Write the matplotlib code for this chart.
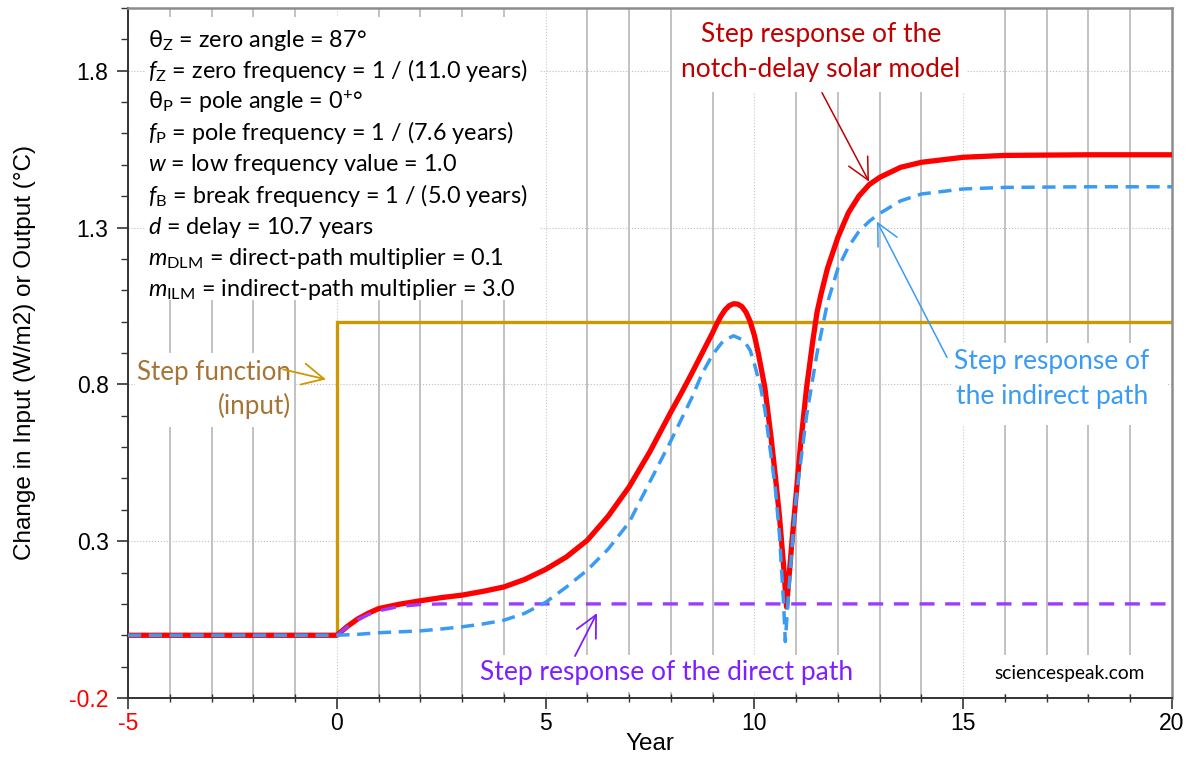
import matplotlib
matplotlib.use('Agg')
import matplotlib.pyplot as plt
from matplotlib.ticker import MultipleLocator, FixedLocator
from matplotlib.patches import Rectangle

# ---------------- data ----------------
years_step = [-5, 0, 0, 20]
step_input = [0.0, 0.0, 1.0, 1.0]

years_total = [-5, 0, 0.25, 0.5, 0.75, 1, 1.5, 2, 2.5, 3, 3.5, 4, 4.5, 5, 5.5, 6, 6.5, 7,
               7.5, 8, 8.25, 8.5, 8.75, 9, 9.1, 9.2, 9.3, 9.4, 9.5, 9.6, 9.7, 9.8, 9.9, 10,
               10.1, 10.25, 10.4, 10.5, 10.6, 10.7, 10.77, 10.85, 10.9, 11, 11.1, 11.25,
               11.4, 11.5, 11.6, 11.75, 12, 12.25, 12.5, 12.75, 13, 13.5, 14, 15, 16, 18, 20]
total_resp = [0, 0, 0.028, 0.052, 0.07, 0.085, 0.099, 0.11, 0.12, 0.128, 0.14, 0.154, 0.178,
              0.21, 0.25, 0.303, 0.38, 0.473, 0.586, 0.712, 0.772, 0.835, 0.90, 0.965,
              0.993, 1.018, 1.038, 1.051, 1.057, 1.056, 1.048, 1.03, 1.0, 0.956, 0.895,
              0.79, 0.63, 0.51, 0.38, 0.22, 0.09, 0.22, 0.30, 0.45, 0.60, 0.79, 0.94, 1.03,
              1.09, 1.17, 1.269, 1.347, 1.40, 1.437, 1.46, 1.492, 1.508, 1.524, 1.53,
              1.532, 1.532]

years_indirect = [-5, 0, 0.5, 1, 1.5, 2, 2.5, 3, 3.5, 4, 4.5, 5, 5.5, 6, 6.5, 7, 7.5, 8,
                  8.5, 8.75, 9, 9.25, 9.5, 9.75, 9.9, 10, 10.15, 10.25, 10.5, 10.6, 10.7,
                  10.74, 10.8, 10.9, 11, 11.25, 11.5, 11.75, 12, 12.25, 12.5, 12.75, 13, 13.5,
                  14, 15, 16, 18, 20]
indirect_resp = [0, 0, 0.003, 0.008, 0.011, 0.014, 0.02, 0.027, 0.036, 0.048, 0.07, 0.105,
                 0.154, 0.208, 0.275, 0.36, 0.49, 0.62, 0.757, 0.835, 0.895, 0.938, 0.955,
                 0.94, 0.908, 0.865, 0.79, 0.72, 0.47, 0.32, 0.10, -0.02, 0.10, 0.28, 0.44,
                 0.70, 0.90, 1.06, 1.17, 1.238, 1.287, 1.32, 1.345, 1.385, 1.407, 1.423,
                 1.428, 1.43, 1.43]

years_direct = [0, 0.25, 0.5, 0.75, 1, 1.5, 2, 2.5, 20]
direct_resp = [0, 0.027, 0.05, 0.066, 0.078, 0.092, 0.098, 0.1, 0.1]

x_ticks = [-5, 0, 5, 10, 15, 20]
x_tick_labels = ['-5', '0', '5', '10', '15', '20']
y_ticks = [-0.2, 0.3, 0.8, 1.3, 1.8]
y_tick_labels = ['-0.2', '0.3', '0.8', '1.3', '1.8']

param_lines = [
    'θ$_\\mathrm{Z}$ = zero angle = 87°',
    '$f_\\mathrm{Z}$ = zero frequency = 1 / (11.0 years)',
    'θ$_\\mathrm{P}$ = pole angle = 0$^{+}$°',
    '$f_\\mathrm{P}$ = pole frequency = 1 / (7.6 years)',
    '$w$ = low frequency value = 1.0',
    '$f_\\mathrm{B}$ = break frequency = 1 / (5.0 years)',
    '$d$ = delay = 10.7 years',
    '$m_\\mathrm{DLM}$ = direct-path multiplier = 0.1',
    '$m_\\mathrm{ILM}$ = indirect-path multiplier = 3.0',
]
total_label = ['Step response of the', 'notch-delay solar model']
indirect_label = ['Step response of', 'the indirect path']
step_label = ['Step function', '(input)']
direct_label = 'Step response of the direct path'
credit = 'sciencespeak.com'

# ---------------- style ----------------
ann_font = 'Lato'
plt.rcParams['font.family'] = ['Liberation Sans', 'DejaVu Sans']
plt.rcParams['mathtext.fontset'] = 'custom'
plt.rcParams['mathtext.rm'] = ann_font
plt.rcParams['mathtext.it'] = ann_font + ':italic'
plt.rcParams['mathtext.bf'] = ann_font + ':bold'

C_RED = '#FF0000'
C_DRED = '#C00000'
C_BLUE = '#3A9BF5'
C_PURP = '#9B3DFF'
C_PURP_T = '#7F1FFF'
C_GOLD = '#CC9900'
C_BROWN = '#A67434'

fig = plt.figure(figsize=(11.94, 7.60), dpi=100)
ax = fig.add_axes([128 / 1194, 1 - 698 / 760, (1172 - 128) / 1194, (698 - 8) / 760])

ax.set_xlim(-5, 20)
ax.set_ylim(-0.2, 2.0)


def py(p):
    return -0.2 + (698 - p) / 314.0


def px(p):
    return -5 + (p - 128) / 41.76


def white_box(x0, y0, x1, y1):
    ax.add_patch(Rectangle((px(x0), py(y1)), px(x1) - px(x0), py(y0) - py(y1),
                           facecolor='white', edgecolor='none', zorder=1.5))


# grid & ticks
ax.set_axisbelow(True)
ax.xaxis.set_major_locator(FixedLocator(x_ticks))
ax.xaxis.set_minor_locator(MultipleLocator(1))
ax.yaxis.set_major_locator(FixedLocator(y_ticks))
ax.yaxis.set_minor_locator(MultipleLocator(0.1))
ax.set_xticklabels(x_tick_labels)
ax.set_yticklabels(y_tick_labels)
ax.xaxis.grid(True, which='minor', color='#BDBDBD', lw=1.3, ls='-')
ax.xaxis.grid(True, which='major', color='#C8C8C8', lw=0.8, ls=':')
ax.yaxis.grid(True, which='major', color='#BEBEBE', lw=0.8, ls=':')

for lab in ax.get_xticklabels():
    if lab.get_text() == '-5':
        lab.set_color('red')
for lab in ax.get_yticklabels():
    if lab.get_text() == '-0.2':
        lab.set_color('red')

ax.tick_params(axis='both', which='major', labelsize=16.5, length=8, width=1.2, color='#333333')
ax.tick_params(axis='both', which='minor', length=5, width=1.0, color='#333333')
ax.tick_params(axis='x', which='minor', direction='inout', length=6)
ax.tick_params(axis='x', which='major', pad=2)
ax.tick_params(axis='y', which='major', pad=6)
for s in ['left', 'bottom']:
    ax.spines[s].set_color('#333333')
    ax.spines[s].set_linewidth(1.4)
for s in ['top', 'right']:
    ax.spines[s].set_color('#8C8C8C')
    ax.spines[s].set_linewidth(1.8)

ax.set_xlabel('Year', fontsize=17.5, labelpad=-1)
ax.set_ylabel('Change in Input (W/m2) or Output (°C)', fontsize=17.5, labelpad=24)

# curves
ax.plot(years_step, step_input, color=C_GOLD, lw=2.4, zorder=2, solid_joinstyle='miter')
ax.plot(years_total, total_resp, color=C_RED, lw=3.8, zorder=3, solid_capstyle='butt')
ax.plot(years_direct, direct_resp, color=C_PURP, lw=2.4, ls=(0, (4.5, 3.2)), zorder=4)
ax.plot(years_indirect, indirect_resp, color=C_BLUE, lw=2.5, ls=(0, (3.8, 2.2)), zorder=5)

arrow_style = '->,head_length=0.7,head_width=0.35'

# parameter box
white_box(146, 16, 540, 300)
for i, line in enumerate(param_lines):
    ax.text(px(148), py(46 + 31.2 * i), line, fontsize=16.8, family=ann_font,
            ha='left', va='baseline', color='black', zorder=6)

# annotation: total response
white_box(672, 8, 966, 91)
for i, line in enumerate(total_label):
    ax.text(px(821), py(41 + 35 * i), line, fontsize=19, family=ann_font,
            color=C_DRED, ha='center', va='baseline', zorder=6)
ax.annotate('', xy=(px(869), py(181)), xytext=(px(822), py(92)),
            arrowprops=dict(arrowstyle=arrow_style, color=C_DRED,
                            lw=1.1, mutation_scale=22, shrinkA=0, shrinkB=0), zorder=6)

# annotation: indirect path
white_box(953, 343, 1167, 425)
for i, line in enumerate(indirect_label):
    ax.text(px(1052), py(369 + 35 * i), line, fontsize=19, family=ann_font,
            color=C_BLUE, ha='center', va='baseline', zorder=6)
ax.annotate('', xy=(px(877), py(221)), xytext=(px(947), py(357)),
            arrowprops=dict(arrowstyle=arrow_style, color=C_BLUE,
                            lw=1.1, mutation_scale=22, shrinkA=0, shrinkB=0), zorder=6)

# annotation: step function
white_box(135, 353, 294, 427)
for i, line in enumerate(step_label):
    ax.text(px(291), py(380 + 34 * i), line, fontsize=18.7, family=ann_font,
            color=C_BROWN, ha='right', va='baseline', zorder=6)
ax.annotate('', xy=(px(326), py(379)), xytext=(px(283), py(369)),
            arrowprops=dict(arrowstyle=arrow_style, color=C_GOLD,
                            lw=1.3, mutation_scale=22, shrinkA=0, shrinkB=0), zorder=7)

# annotation: direct path
white_box(478, 655, 856, 692)
ax.text(px(667), py(680), direct_label, fontsize=19, family=ann_font,
        color=C_PURP_T, ha='center', va='baseline', zorder=6)
ax.annotate('', xy=(px(597), py(613)), xytext=(px(575), py(656)),
            arrowprops=dict(arrowstyle=arrow_style, color=C_PURP_T,
                            lw=1.3, mutation_scale=22, shrinkA=0, shrinkB=0), zorder=6)

# credit
white_box(983, 655, 1167, 694)
ax.text(px(1070), py(679), credit, fontsize=13.8, family=ann_font,
        color='black', ha='center', va='baseline', zorder=6)

fig.savefig('out.png', dpi=100)
